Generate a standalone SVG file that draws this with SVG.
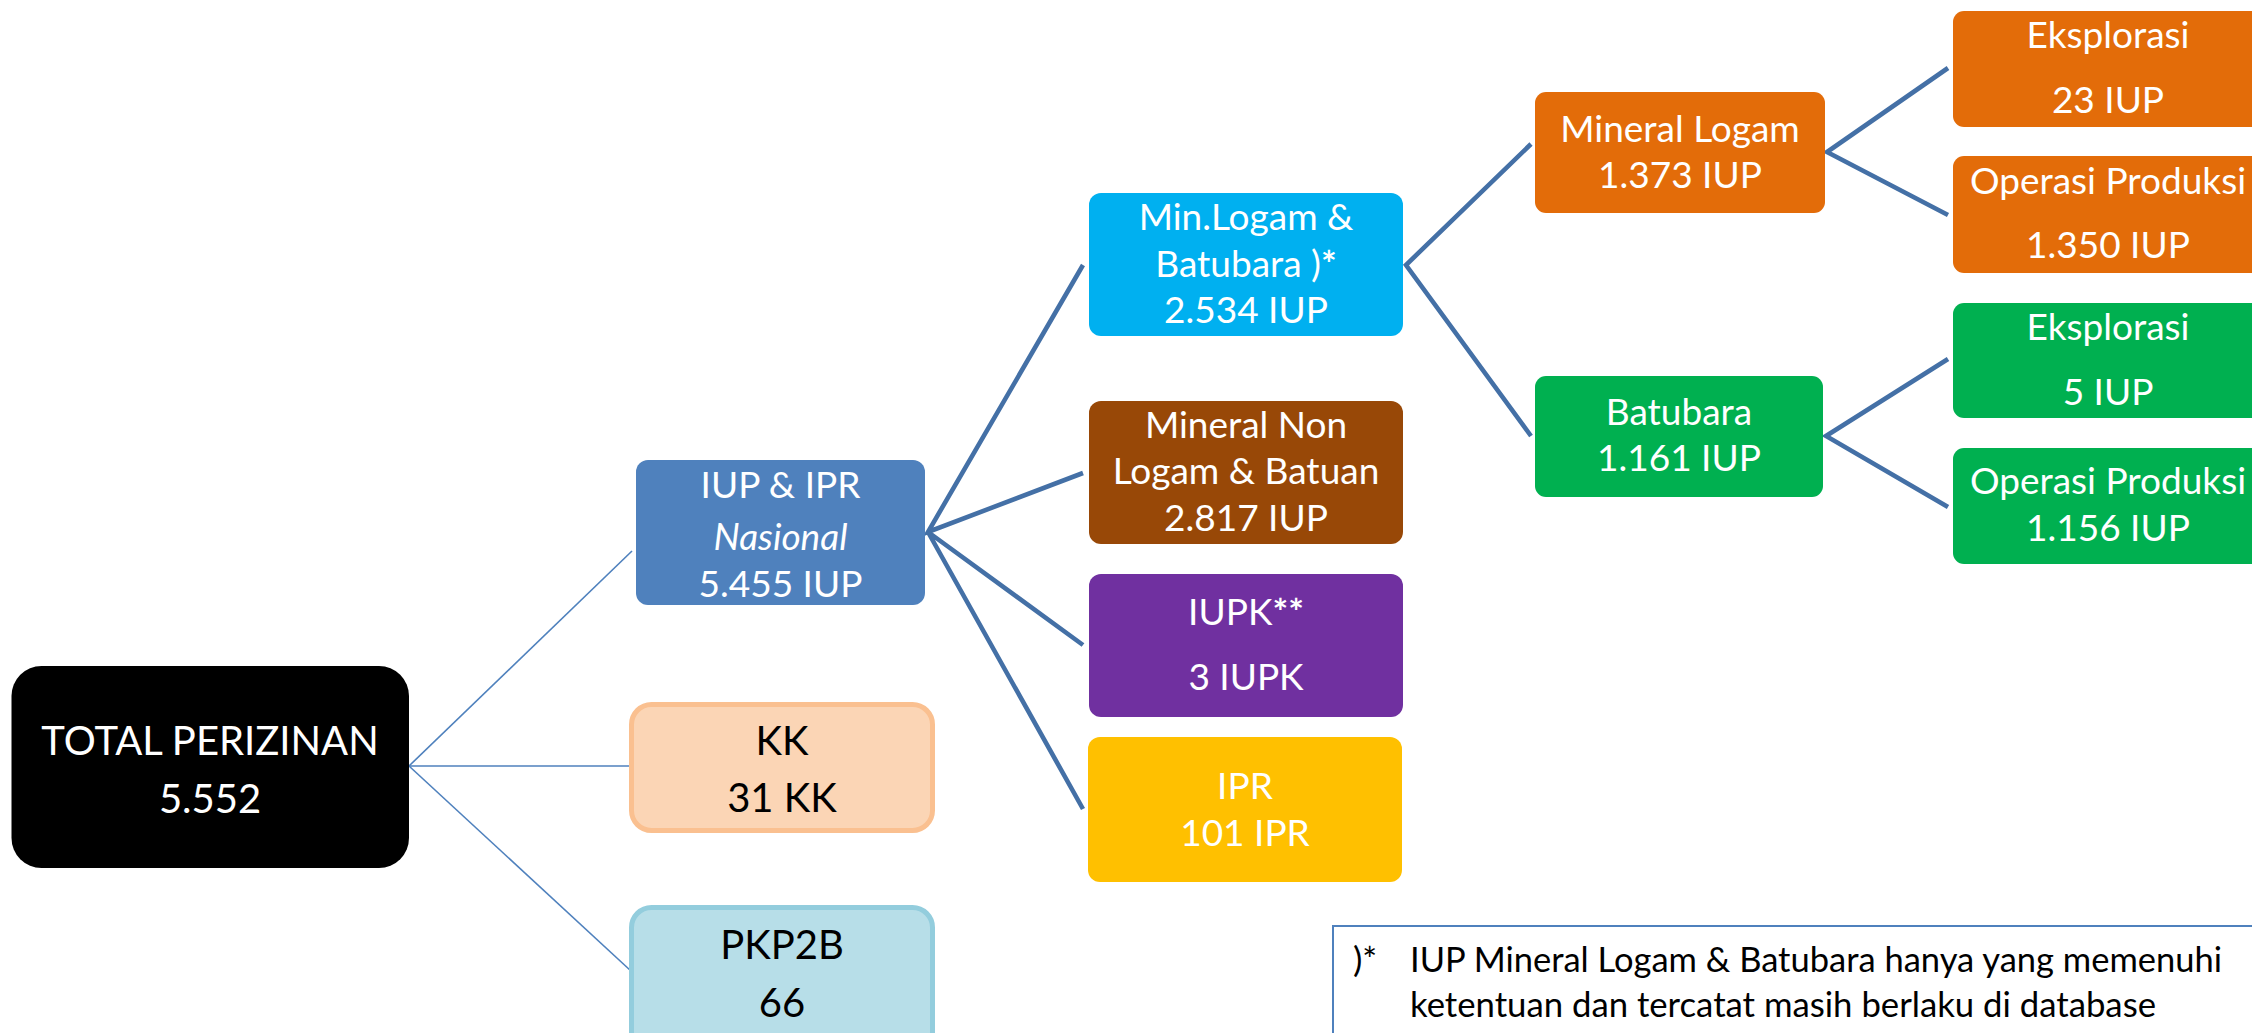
<svg xmlns="http://www.w3.org/2000/svg" width="2252" height="1033" viewBox="0 0 2252 1033">
<style>
text{font-family:Lato,"Liberation Sans",sans-serif;text-anchor:middle;}
.w{fill:#fff;font-size:37px;}
.b{fill:#000;font-size:40px;}
.thin{stroke:#4F81BD;stroke-width:1.6;fill:none;}
.thick{stroke:#4470A6;stroke-width:4.6;fill:none;stroke-linecap:butt;stroke-linejoin:miter;}
.note{fill:#000;font-size:35px;text-anchor:start;}
</style>
<rect width="2252" height="1033" fill="#fff"/>
<g id="connectors">
  <line class="thin" x1="409" y1="766" x2="632" y2="551"/>
  <line class="thin" x1="409" y1="766" x2="629" y2="766"/>
  <line class="thin" x1="409" y1="766" x2="631" y2="971"/>
  <polyline class="thick" points="1083,265 928,532 1083,473"/>
  <polyline class="thick" points="1083,645 928,532 1083,809"/>
  <polyline class="thick" points="1531,144 1406,265 1531,436"/>
  <polyline class="thick" points="1948,68 1827,152 1948,215"/>
  <polyline class="thick" points="1948,359 1826,436 1948,507"/>
</g>
<g id="total">
  <rect x="11.5" y="666" width="397.5" height="202" rx="30" fill="#000"/>
  <text x="210" y="755" fill="#fff" font-size="40">TOTAL PERIZINAN</text>
  <text x="210" y="813" fill="#fff" font-size="40">5.552</text>
</g>
<g id="iup-ipr">
  <rect x="636" y="460" width="289" height="145" rx="12" fill="#4F81BD"/>
  <text class="w" x="780.5" y="498">IUP &amp; IPR</text>
  <text class="w" x="780.5" y="550" font-style="italic">Nasional</text>
  <text class="w" x="780.5" y="597">5.455 IUP</text>
</g>
<g id="kk">
  <rect x="631.5" y="704.5" width="301" height="126" rx="20" fill="#FBD5B5" stroke="#FAC090" stroke-width="5"/>
  <text class="b" x="782" y="755">KK</text>
  <text class="b" x="782" y="812">31 KK</text>
</g>
<g id="pkp2b">
  <rect x="631.5" y="907.5" width="301" height="150" rx="20" fill="#B7DEE8" stroke="#93CDDD" stroke-width="5"/>
  <text class="b" x="782" y="959">PKP2B</text>
  <text class="b" x="782" y="1017">66</text>
</g>
<g id="min-logam-batubara">
  <rect x="1089" y="193" width="314" height="143" rx="12" fill="#00B0F0"/>
  <text class="w" x="1246" y="230">Min.Logam &amp;</text>
  <text class="w" x="1246" y="277">Batubara )<tspan font-weight="bold">*</tspan></text>
  <text class="w" x="1246" y="323">2.534 IUP</text>
</g>
<g id="mineral-non-logam">
  <rect x="1089" y="401" width="314" height="143" rx="12" fill="#984807"/>
  <text class="w" x="1246" y="438">Mineral Non</text>
  <text class="w" x="1246" y="484">Logam &amp; Batuan</text>
  <text class="w" x="1246" y="531">2.817 IUP</text>
</g>
<g id="iupk">
  <rect x="1089" y="574" width="314" height="143" rx="12" fill="#7030A0"/>
  <text class="w" x="1246" y="625">IUPK<tspan font-weight="bold">**</tspan></text>
  <text class="w" x="1246" y="690">3 IUPK</text>
</g>
<g id="ipr">
  <rect x="1088" y="737" width="314" height="145" rx="12" fill="#FFC000"/>
  <text class="w" x="1245" y="799">IPR</text>
  <text class="w" x="1245" y="846">101 IPR</text>
</g>
<g id="mineral-logam">
  <rect x="1535" y="92" width="290" height="121" rx="11" fill="#E36C09"/>
  <text class="w" x="1680" y="142">Mineral Logam</text>
  <text class="w" x="1680" y="188">1.373 IUP</text>
</g>
<g id="batubara">
  <rect x="1535" y="376" width="288" height="121" rx="11" fill="#00B050"/>
  <text class="w" x="1679" y="425">Batubara</text>
  <text class="w" x="1679" y="471">1.161 IUP</text>
</g>
<g id="ml-eksplorasi">
  <rect x="1953" y="11" width="320" height="116" rx="11" fill="#E36C09"/>
  <text class="w" x="2108" y="48">Eksplorasi</text>
  <text class="w" x="2108" y="113">23 IUP</text>
</g>
<g id="ml-operasi">
  <rect x="1953" y="156" width="320" height="117" rx="11" fill="#E36C09"/>
  <text class="w" x="2108" y="194">Operasi Produksi</text>
  <text class="w" x="2108" y="258">1.350 IUP</text>
</g>
<g id="bb-eksplorasi">
  <rect x="1953" y="303" width="320" height="115" rx="11" fill="#00B050"/>
  <text class="w" x="2108" y="340">Eksplorasi</text>
  <text class="w" x="2108" y="405">5 IUP</text>
</g>
<g id="bb-operasi">
  <rect x="1953" y="448" width="320" height="116" rx="11" fill="#00B050"/>
  <text class="w" x="2108" y="494">Operasi Produksi</text>
  <text class="w" x="2108" y="541">1.156 IUP</text>
</g>
<g id="footnote">
  <rect x="1333" y="926" width="940" height="140" fill="#fff" stroke="#4F81BD" stroke-width="2"/>
  <text class="note" x="1353" y="972">)*</text>
  <text class="note" x="1410" y="972" textLength="812" lengthAdjust="spacingAndGlyphs">IUP Mineral Logam &amp; Batubara hanya yang memenuhi</text>
  <text class="note" x="1410" y="1017" textLength="746" lengthAdjust="spacingAndGlyphs">ketentuan dan tercatat masih berlaku di database</text>
</g>
</svg>
